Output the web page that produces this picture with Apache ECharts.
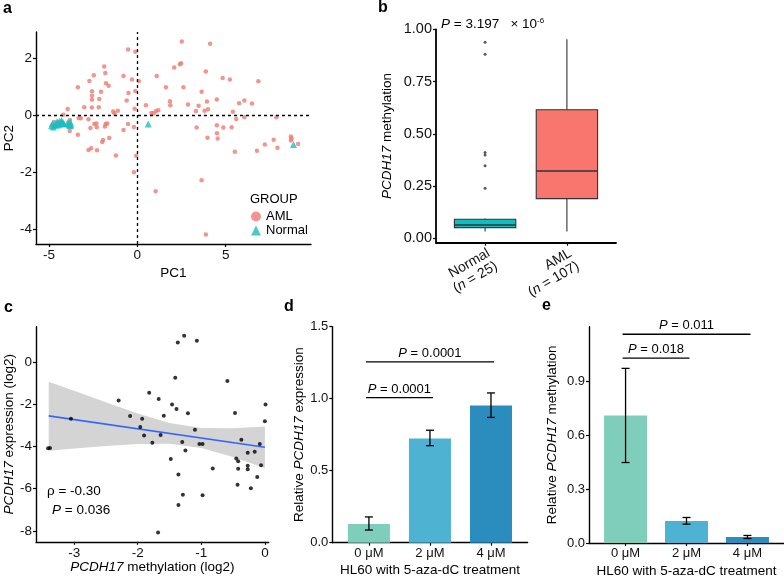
<!DOCTYPE html>
<html><head><meta charset="utf-8">
<script src="https://cdn.jsdelivr.net/npm/echarts@6/dist/echarts.min.js"></script>
<style>html,body{margin:0;padding:0;background:#fff}#c{width:784px;height:579px}</style>
</head><body><div id="c"></div>
<script>
// ---- Panel a: PCA ----
const amlPoints = [[2.52,2.58],[4.12,2.50],[-0.52,2.30],[-0.11,2.22],[2.48,1.81],[2.41,1.78],[-1.87,1.70],[2.09,1.66],[-1.81,1.47],[3.88,1.52],[-2.46,1.39],[-0.78,1.37],[1.10,1.37],[-2.71,1.19],[-0.30,1.24],[0.09,1.18],[4.83,1.30],[5.24,1.24],[6.85,1.18],[-1.77,1.11],[-3.36,0.97],[-1.62,1.02],[-0.11,0.84],[-0.50,0.77],[-2.56,0.83],[-2.05,0.81],[-2.56,0.67],[-2.56,0.53],[1.62,0.97],[2.61,0.97],[3.64,0.81],[-2.15,0.56],[-0.60,0.51],[1.85,0.48],[1.87,0.34],[2.87,0.37],[3.94,0.47],[4.50,0.54],[5.76,0.41],[6.06,0.51],[6.49,0.40],[-3.94,0.21],[-4.18,0.01],[-3.00,0.27],[-2.57,0.26],[-2.18,0.27],[-1.36,0.12],[-1.29,0.06],[-1.10,0.15],[-0.15,0.22],[0.49,0.34],[0.80,0.07],[0.93,0.06],[1.06,0.14],[1.19,0.16],[3.32,0.14],[3.47,0.32],[3.81,0.15],[4.00,0.20],[5.41,0.11],[-3.32,-0.11],[-3.19,-0.12],[-2.76,-0.15],[-3.81,-0.18],[-3.84,-0.41],[-3.82,-0.56],[-2.31,-0.30],[-2.43,-0.32],[-2.65,-0.46],[-2.29,-0.43],[-1.79,-0.32],[-1.70,-0.30],[-1.83,-0.41],[-3.36,-0.70],[-0.52,-0.32],[-0.19,-0.42],[-0.78,-0.53],[-1.59,-0.81],[-1.94,-0.88],[-1.98,-0.95],[-2.61,-1.17],[-2.76,-1.23],[-2.28,-1.24],[-1.21,-1.42],[-0.06,-1.43],[3.36,-0.44],[3.97,-0.80],[4.50,-0.36],[4.51,-0.64],[4.55,-0.83],[4.87,-0.44],[5.34,-0.43],[5.60,-0.14],[6.06,-0.08],[7.87,-0.08],[5.52,-1.29],[6.77,-1.26],[7.22,-1.04],[7.72,-0.87],[7.93,-1.15],[8.69,-0.76],[8.73,-0.83],[8.69,-0.90],[9.10,-1.02],[-0.19,-2.01],[3.64,-2.29],[1.04,-2.68],[3.88,-4.20],[-4.70,-0.25],[-4.55,-0.40]];
const normalPoints = [[-4.85,-0.38],[-4.80,-0.30],[-4.75,-0.42],[-4.60,-0.33],[-4.50,-0.27],[-4.45,-0.30],[-4.40,-0.22],[-4.35,-0.28],[-4.30,-0.25],[-4.25,-0.30],[-4.20,-0.27],[-4.15,-0.32],[-3.90,-0.30],[-3.85,-0.35],[-3.80,-0.25],[-3.75,-0.33],[-4.65,-0.35],[-4.55,-0.25],[-4.40,-0.32],[-4.28,-0.20],[-3.95,-0.28],[-3.78,-0.38],[-4.50,-0.35],[0.62,-0.32],[8.84,-1.04]];
const aXTicks = [-5,0,5];
const aYTicks = [-4,-2,0,2];

// ---- Panel b: boxplot ----
const bCats = ['Normal','AML'];
const bN = [25,107];
// [lowWhisker, q1, median, q3, highWhisker]
const bBox = [[0.032,0.051,0.064,0.091,0.095],[0.032,0.19,0.322,0.615,0.952]];
const bOutNormal = [0.938,0.881,0.411,0.398,0.347,0.239];
const bYTicks = [0,0.25,0.5,0.75,1.0];

// ---- Panel c: correlation ----
const cPoints = [[-1.27,1.25],[-1.37,0.93],[-1.07,1.01],[-1.41,-0.74],[-0.59,-0.90],[-2.30,-1.82],[-1.82,-1.45],[-1.67,-1.75],[-1.46,-2.01],[-1.39,-2.23],[-1.21,-2.43],[-1.59,-2.55],[-2.12,-2.56],[-1.93,-2.69],[-0.47,-2.42],[0.01,-2.01],[0.00,-2.81],[-3.05,-2.69],[-1.96,-3.08],[-1.90,-3.48],[-1.64,-3.46],[-1.77,-3.83],[-1.10,-3.21],[-1.30,-3.79],[-1.25,-4.19],[-1.03,-3.89],[-0.98,-3.89],[-0.37,-3.68],[-0.27,-4.30],[-0.16,-4.25],[-0.08,-3.89],[-0.45,-4.57],[-0.42,-4.70],[-0.27,-4.92],[-0.27,-5.08],[-0.06,-4.89],[-0.42,-5.06],[-0.12,-5.45],[-0.82,-5.04],[-1.48,-4.59],[-1.36,-5.33],[-0.43,-5.82],[-0.22,-5.98],[-1.29,-6.29],[-0.98,-6.31],[-1.36,-6.77],[-1.68,-8.08],[-1.52,-8.55],[-3.41,-4.09],[-3.38,-4.08]];
const cFit = [[-3.4,-2.55],[0,-4.04]];
const cBandX  = [-3.4,-3.0,-2.5,-2.0,-1.5,-1.0,-0.5,0.0];
const cBandLo = [-4.20,-4.10,-3.98,-3.88,-3.87,-4.07,-4.50,-5.02];
const cBandHi = [-0.93,-1.36,-1.91,-2.44,-2.89,-3.13,-3.14,-3.06];
const cXTicks = [-3,-2,-1,0];
const cYTicks = [-8,-6,-4,-2,0];

// ---- Panel d: expression bars ----
const doseCats = ['0 \u03bcM','2 \u03bcM','4 \u03bcM'];
const dMean = [0.130,0.723,0.953];
const dLow  = [0.088,0.674,0.870];
const dHigh = [0.179,0.781,1.040];
const dSig = [[1,2,1.007],[1,3,1.256]];
const dSigP = ['0.0001','0.0001'];
const dYTicks = [0,0.5,1.0,1.5];

// ---- Panel e: methylation bars ----
const eMean = [0.710,0.122,0.033];
const eLow  = [0.448,0.105,0.025];
const eHigh = [0.972,0.142,0.042];
const eSig = [[1,2,1.029],[1,3,1.162]];
const eSigP = ['0.018','0.011'];
const eYTicks = [0,0.3,0.6,0.9];

const barColors = ['#7FCDBB','#4EB3D3','#2B8CBE'];
const FF = "'Liberation Sans', Arial, Helvetica, sans-serif";
const AML_COLOR = '#F07B73', NORMAL_COLOR = '#1DBDC1';

function mkAxis(type, idx, min, max, ticks, fmt, fs, extra){
  const ax = {
    type:'value', gridIndex:idx, min:min, max:max,
    splitLine:{show:false},
    axisLine:{onZero:false, lineStyle:{color:'#000', width:1.4}},
    axisTick:{show:true, length:3, lineStyle:{color:'#000', width:1.2}, customValues:ticks},
    axisLabel:{customValues:ticks, color:'#111', fontSize:fs, fontFamily:FF, margin:4, formatter:fmt}
  };
  return Object.assign(ax, extra||{});
}
const nameStyle = {color:'#000', fontSize:13.5, fontFamily:FF, rich:{i:{fontStyle:'italic', fontSize:13.5, fontFamily:FF, color:'#000'}, t:{fontSize:13.5, fontFamily:FF, color:'#000'}}};

function errRender(params, api){
  const x = api.value(0), lo = api.value(1), hi = api.value(2);
  const p1 = api.coord([x, lo]), p2 = api.coord([x, hi]);
  const w = 4, st = {stroke:'#000', lineWidth:1.3};
  return {type:'group', children:[
    {type:'line', shape:{x1:p1[0],y1:p1[1],x2:p2[0],y2:p2[1]}, style:st},
    {type:'line', shape:{x1:p1[0]-w,y1:p1[1],x2:p1[0]+w,y2:p1[1]}, style:st},
    {type:'line', shape:{x1:p2[0]-w,y1:p2[1],x2:p2[0]+w,y2:p2[1]}, style:st}
  ]};
}
function sigRender(labels){
  return function(params, api){
    const a = api.coord([api.value(0), api.value(2)]), b = api.coord([api.value(1), api.value(2)]);
    return {type:'group', children:[
      {type:'line', shape:{x1:a[0]-3,y1:a[1],x2:b[0]+3,y2:b[1]}, style:{stroke:'#000', lineWidth:1.3}},
      {type:'text', x:(a[0]+b[0])/2, y:a[1]-2, style:{text:'{i|P} = '+labels[params.dataIndex], align:'center', verticalAlign:'bottom', fontSize:13, fontFamily:FF, fill:'#000', rich:{i:{fontStyle:'italic', fontSize:13, fontFamily:FF}}}}
    ]};
  };
}
function boxRender(params, api){
  const i = params.dataIndex;
  const x = api.value(0), half = 0.375;
  const lowP = api.coord([x, api.value(1)]), q1L = api.coord([x-half, api.value(2)]);
  const med = api.value(3);
  const q3R = api.coord([x+half, api.value(4)]), highP = api.coord([x, api.value(5)]);
  const mL = api.coord([x-half, med]), mR = api.coord([x+half, med]);
  const st = {stroke:'#333', lineWidth:1.1};
  return {type:'group', children:[
    {type:'line', shape:{x1:lowP[0],y1:lowP[1],x2:lowP[0],y2:q1L[1]}, style:st},
    {type:'line', shape:{x1:highP[0],y1:highP[1],x2:highP[0],y2:q3R[1]}, style:st},
    {type:'rect', shape:{x:q1L[0], y:q3R[1], width:q3R[0]-q1L[0], height:q1L[1]-q3R[1]}, style:{fill:i===0?'#10BEC2':'#F8766D', stroke:'#333', lineWidth:1.1}},
    {type:'line', shape:{x1:mL[0],y1:mL[1],x2:mR[0],y2:mR[1]}, style:{stroke:'#333', lineWidth:1.4}}
  ]};
}
function bandRender(params, api){
  if (params.dataIndex !== 0) return null;
  const pts = [];
  for (let k=0;k<cBandX.length;k++) pts.push(api.coord([cBandX[k], cBandHi[k]]));
  for (let k=cBandX.length-1;k>=0;k--) pts.push(api.coord([cBandX[k], cBandLo[k]]));
  return {type:'polygon', shape:{points:pts}, style:{fill:'#D4D4D4', stroke:null}};
}

const intFmt = v => String(v);
const catFmt = v => doseCats[Math.round(v)-1] || '';

const option = {
  animation:false,
  textStyle:{fontFamily:FF},
  grid:[
    {left:36, top:32, width:275, height:212},
    {left:436, top:29.3, width:180, height:213.4},
    {left:36, top:326.8, width:232.7, height:215},
    {left:332.3, top:326.7, width:195.3, height:216},
    {left:589, top:326.7, width:195, height:217.6}
  ],
  xAxis:[
    mkAxis('x',0,-5.73,9.83,aXTicks,intFmt,13.5,{name:'PC1', nameLocation:'middle', nameGap:22, nameTextStyle:nameStyle}),
    mkAxis('x',1,0.4,2.6,[1,2],function(v){const i=Math.round(v)-1; return '{t|'+bCats[i]+'}\n{t|(}{i|n}{t| = '+bN[i]+')}';},14,{}),
    mkAxis('x',2,-3.6,0.06,cXTicks,intFmt,13.5,{name:'{i|PCDH17} methylation (log2)', nameLocation:'middle', nameGap:18, nameTextStyle:nameStyle}),
    mkAxis('x',3,0.4,3.6,[1,2,3],catFmt,13,{name:'HL60 with 5-aza-dC treatment', nameLocation:'middle', nameGap:21, nameTextStyle:nameStyle}),
    mkAxis('x',4,0.4,3.6,[1,2,3],catFmt,13,{name:'HL60 with 5-aza-dC treatment', nameLocation:'middle', nameGap:21, nameTextStyle:nameStyle})
  ],
  yAxis:[
    mkAxis('y',0,-4.53,2.91,aYTicks,intFmt,13.5,{name:'PC2', nameLocation:'middle', nameGap:17, nameTextStyle:nameStyle}),
    mkAxis('y',1,-0.021,1.0,bYTicks,v=>v.toFixed(2),14.5,{name:'{i|PCDH17} methylation', nameLocation:'middle', nameGap:42, nameTextStyle:nameStyle}),
    mkAxis('y',2,-8.52,1.67,cYTicks,intFmt,13.5,{name:'{i|PCDH17} expression (log2)', nameLocation:'middle', nameGap:20, nameTextStyle:nameStyle}),
    mkAxis('y',3,0,1.5,dYTicks,v=>v.toFixed(1),13,{name:'Relative {i|PCDH17} expression', nameLocation:'middle', nameGap:22, nameTextStyle:nameStyle}),
    mkAxis('y',4,0,1.204,eYTicks,v=>v.toFixed(1),13,{name:'Relative {i|PCDH17} methylation', nameLocation:'middle', nameGap:30, nameTextStyle:nameStyle})
  ],
  legend:{
    left:251, top:210, orient:'vertical', itemGap:1, itemWidth:10, itemHeight:10, padding:0,
    textStyle:{fontSize:13, fontFamily:FF, color:'#000'},
    data:[{name:'AML', icon:'circle'},{name:'Normal', icon:'triangle'}]
  },
  series:[
    {type:'line', xAxisIndex:0, yAxisIndex:0, data:[], markLine:{silent:true, symbol:'none', label:{show:false},
      lineStyle:{color:'#000', type:[3,3], width:1.3}, data:[{xAxis:0},{yAxis:0}]}},
    {name:'AML', type:'scatter', xAxisIndex:0, yAxisIndex:0, data:amlPoints, symbolSize:4.5, itemStyle:{color:AML_COLOR}},
    {name:'Normal', type:'scatter', xAxisIndex:0, yAxisIndex:0, data:normalPoints, symbol:'triangle', symbolSize:7, itemStyle:{color:NORMAL_COLOR}},
    {type:'custom', xAxisIndex:1, yAxisIndex:1, renderItem:boxRender, data:bBox.map((s,i)=>[i+1].concat(s)), encode:{x:0, y:[1,2,3,4,5]}},
    {type:'scatter', xAxisIndex:1, yAxisIndex:1, data:bOutNormal.map(v=>[1,v]), symbolSize:3, itemStyle:{color:'#333'}},
    {type:'custom', xAxisIndex:2, yAxisIndex:2, renderItem:bandRender, data:cBandX.map((x,k)=>[x,cBandLo[k],cBandHi[k]]), encode:{x:0,y:[1,2]}, z:1},
    {type:'line', xAxisIndex:2, yAxisIndex:2, data:cFit, symbol:'none', lineStyle:{color:'#3366FF', width:1.6}, z:3},
    {type:'scatter', xAxisIndex:2, yAxisIndex:2, data:cPoints, symbolSize:4, itemStyle:{color:'#000'}, z:4},
    {type:'bar', xAxisIndex:3, yAxisIndex:3, barWidth:42, data:dMean.map((v,i)=>({value:[i+1,v], itemStyle:{color:barColors[i]}}))},
    {type:'custom', xAxisIndex:3, yAxisIndex:3, renderItem:errRender, data:dMean.map((v,i)=>[i+1,dLow[i],dHigh[i]]), encode:{x:0,y:[1,2]}, z:5},
    {type:'custom', xAxisIndex:3, yAxisIndex:3, renderItem:sigRender(dSigP), data:dSig, encode:{x:[0,1],y:2}, z:5},
    {type:'bar', xAxisIndex:4, yAxisIndex:4, barWidth:43, data:eMean.map((v,i)=>({value:[i+1,v], itemStyle:{color:barColors[i]}}))},
    {type:'custom', xAxisIndex:4, yAxisIndex:4, renderItem:errRender, data:eMean.map((v,i)=>[i+1,eLow[i],eHigh[i]]), encode:{x:0,y:[1,2]}, z:5},
    {type:'custom', xAxisIndex:4, yAxisIndex:4, renderItem:sigRender(eSigP), data:eSig, encode:{x:[0,1],y:2}, z:5}
  ],
  graphic:[
    {type:'text', left:3, top:1, style:{text:'a', fontSize:16, fontWeight:'bold', fontFamily:FF, fill:'#000'}},
    {type:'text', left:378, top:0, style:{text:'b', fontSize:16, fontWeight:'bold', fontFamily:FF, fill:'#000'}},
    {type:'text', left:4, top:300, style:{text:'c', fontSize:16, fontWeight:'bold', fontFamily:FF, fill:'#000'}},
    {type:'text', left:284, top:299, style:{text:'d', fontSize:16, fontWeight:'bold', fontFamily:FF, fill:'#000'}},
    {type:'text', left:542, top:298, style:{text:'e', fontSize:16, fontWeight:'bold', fontFamily:FF, fill:'#000'}},
    {type:'text', left:250, top:193, style:{text:'GROUP', fontSize:13, fontFamily:FF, fill:'#000'}},
    {type:'text', left:441, top:17, style:{text:'{i|P} = 3.197   \u00d7 10{s|-6}', fontSize:13.5, fontFamily:FF, fill:'#000',
      rich:{i:{fontStyle:'italic', fontSize:13.5, fontFamily:FF}, s:{fontSize:8, fontFamily:FF, verticalAlign:'top', lineHeight:15}}}},
    {type:'text', left:47, top:484, style:{text:'\u03c1 = -0.30', fontSize:13.5, fontFamily:FF, fill:'#000'}},
    {type:'text', left:52, top:503, style:{text:'{i|P} = 0.036', fontSize:13.5, fontFamily:FF, fill:'#000', rich:{i:{fontStyle:'italic', fontSize:13.5, fontFamily:FF}}}}
  ]
};
// rotated labels for panel b
option.xAxis[1].axisLabel.rotate = 30;
option.xAxis[1].axisLabel.verticalAlign = 'top';
option.xAxis[1].axisLabel.margin = 3;
option.xAxis[1].axisLabel.rich = {t:{fontSize:14, fontFamily:FF, color:'#111', lineHeight:15}, i:{fontSize:14, fontFamily:FF, color:'#111', fontStyle:'italic', lineHeight:15}};
option.xAxis[1].axisLine.lineStyle.width = 1.8;
option.yAxis[1].axisLine.lineStyle.width = 1.8;

const chart = echarts.init(document.getElementById('c'), null, {renderer:'canvas'});
chart.setOption(option);
</script></body></html>
